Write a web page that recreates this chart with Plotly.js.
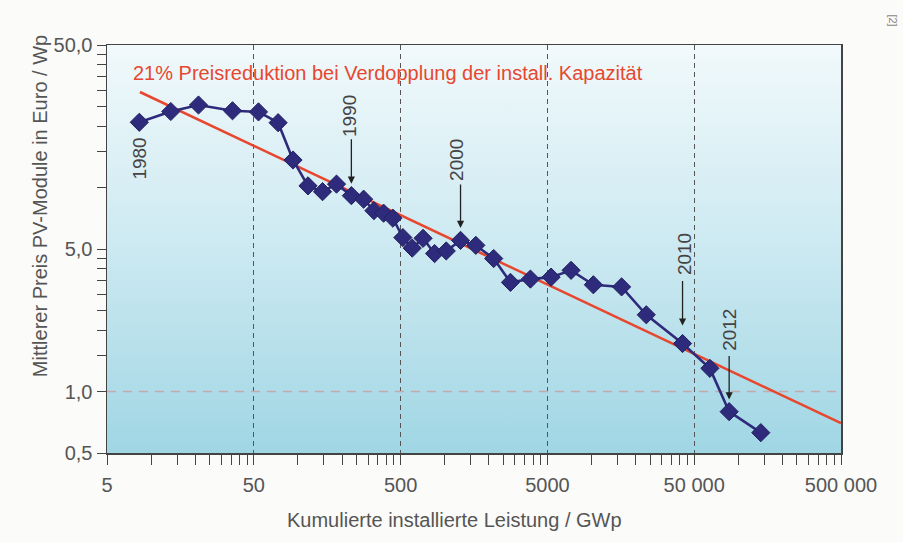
<!DOCTYPE html>
<html>
<head>
<meta charset="utf-8">
<script src="https://cdn.plot.ly/plotly-3.0.1.min.js"></script>
<style>html,body{margin:0;padding:0;background:#fbfbf9;}#chart{width:903px;height:542px;}</style>
</head>
<body>
<div id="chart"></div>
<script>
// ---- data ----
const years = [1980,1981,1982,1983,1984,1985,1986,1987,1988,1989,
               1990,1991,1992,1993,1994,1995,1996,1997,1998,1999,
               2000,2001,2002,2003,2004,2005,2006,2007,2008,2009,
               2010,2011,2012,2013];
const capacity = [8.3,13.6,21.0,35.8,53.8,73.2,92.5,117,147,183,
                  231,280,329,383,443,518,600,711,852,1023,
                  1280,1627,2153,2801,3831,5299,7248,10280,16010,23580,
                  41640,63940,86500,142100];
const price = [20.9,23.6,25.4,23.8,23.5,20.8,13.65,10.2,9.55,10.4,
               9.13,8.77,7.71,7.49,7.08,5.69,5.05,5.64,4.75,4.89,
               5.51,5.21,4.49,3.43,3.56,3.64,3.93,3.34,3.26,2.38,
               1.72,1.30,0.797,0.629];
const trendX = [8.38, 500000];
const trendY = [29.4, 0.70];
const refX = [5, 500000];
const refY = [1, 1];
const xTickVals = [5,50,500,5000,50000,500000];
const xTickText = ['5','50','500','5000','50 000','500 000'];
const yTickVals = [0.5,1,5,50];
const yTickText = ['0,5','1,0','5,0','50,0'];
const labelYears = [1980,1990,2000,2010,2012];
const trendLabel = '21% Preisreduktion bei Verdopplung der install. Kapazität';
const xTitle = 'Kumulierte installierte Leistung / GWp';
const yTitle = 'Mittlerer Preis PV-Module in Euro / Wp';

// minor ticks at multiples of 5·10^k
const xMinor = [];
for (let k = 0; k < 5; k++) for (let n = 2; n <= 9; n++) xMinor.push(n * 5 * Math.pow(10, k));
const yMinor = [];
for (let k = -1; k < 1; k++) for (let n = 3; n <= 9; n++) yMinor.push(n * 5 * Math.pow(10, k));
yMinor.push(10);

const FONT = 'Liberation Sans, Arial, sans-serif';
const GREY = '#555555';

const traces = [
  {x: refX, y: refY, mode: 'lines', line: {color: '#c7a9aa', width: 1.5, dash: '9px,7px'}, hoverinfo: 'skip'},
  {x: trendX, y: trendY, mode: 'lines', line: {color: '#e8472f', width: 2.6}, hoverinfo: 'skip'},
  {x: capacity, y: price, mode: 'lines+markers', text: years,
   line: {color: '#2e2b7c', width: 2.6},
   marker: {symbol: 'diamond', size: 14, color: '#2e2b7c', line: {color: '#24215f', width: 1}}}
];

// label offsets (px) relative to the data point
const labelShift = {1980: [0, -36], 1990: [-2, 80], 2000: [-4, 80], 2010: [2, 89], 2012: [1, 82]};
const arrowSpec = {1990: [12, -58], 2000: [12.5, -57.5], 2010: [18, -64], 2012: [12.3, -57.3]};

const annotations = [];
labelYears.forEach(yr => {
  const i = years.indexOf(yr);
  const lx = Math.log10(capacity[i]), ly = Math.log10(price[i]);
  const s = labelShift[yr];
  annotations.push({x: lx, y: ly, xref: 'x', yref: 'y', text: String(yr), showarrow: false,
    textangle: -90, xanchor: 'center', yanchor: 'middle', xshift: s[0], yshift: s[1],
    font: {family: FONT, size: 19, color: '#444'}});
  if (arrowSpec[yr]) {
    const a = arrowSpec[yr];
    annotations.push({x: lx, y: ly, xref: 'x', yref: 'y', text: '', showarrow: true,
      ax: 0, ay: a[1], axref: 'pixel', ayref: 'pixel', standoff: a[0],
      arrowhead: 2, arrowsize: 1.1, arrowwidth: 1.3, arrowcolor: '#222'});
  }
});
annotations.push({xref: 'paper', yref: 'paper', x: 0.0327, y: 0.931, xanchor: 'left', yanchor: 'middle',
  text: trendLabel, showarrow: false, font: {family: FONT, size: 20, color: '#e8472f'}});
annotations.push({xref: 'paper', yref: 'paper', x: 0.474, y: -0.164, xanchor: 'center', yanchor: 'middle',
  text: xTitle, showarrow: false, font: {family: FONT, size: 20, color: GREY}});
annotations.push({xref: 'paper', yref: 'paper', x: -0.0913, y: 0.605, xanchor: 'center', yanchor: 'middle',
  text: yTitle, showarrow: false, textangle: -90, font: {family: FONT, size: 20, color: GREY}});
annotations.push({xref: 'paper', yref: 'paper', x: 1.071, y: 1.06, xanchor: 'center', yanchor: 'middle',
  text: '[2]', showarrow: false, textangle: 90, font: {family: FONT, size: 11, color: '#888'}});

const svg = "<svg xmlns='http://www.w3.org/2000/svg' width='100' height='100' preserveAspectRatio='none'>" +
  "<defs><linearGradient id='g' x1='0' y1='0' x2='0' y2='1'>" +
  "<stop offset='0' stop-color='#f1f9fb'/><stop offset='0.5' stop-color='#cce9f1'/>" +
  "<stop offset='1' stop-color='#a0d6e4'/></linearGradient></defs>" +
  "<rect width='100' height='100' fill='url(#g)'/></svg>";

const layout = {
  width: 903, height: 542,
  margin: {l: 107, r: 62, t: 45, b: 89},
  paper_bgcolor: '#fbfbf9',
  plot_bgcolor: 'rgba(0,0,0,0)',
  showlegend: false,
  font: {family: FONT, color: GREY},
  images: [{source: 'data:image/svg+xml;charset=utf-8,' + encodeURIComponent(svg),
    xref: 'paper', yref: 'paper', x: 0, y: 1, sizex: 1, sizey: 1,
    xanchor: 'left', yanchor: 'top', sizing: 'stretch', layer: 'below'}],
  xaxis: {
    type: 'log', range: [Math.log10(5), Math.log10(500000)],
    tickmode: 'array', tickvals: xTickVals, ticktext: xTickText,
    ticks: 'outside', ticklen: 10, tickwidth: 1, tickcolor: '#444',
    minor: {tickvals: xMinor, ticks: 'outside', ticklen: 10, tickwidth: 1, tickcolor: '#444', showgrid: false},
    showgrid: true, gridcolor: '#555', griddash: '5px,4px', gridwidth: 1,
    showline: true, mirror: true, linecolor: '#444', linewidth: 1.5,
    zeroline: false, tickfont: {family: FONT, size: 20, color: GREY},
    ticklabelstandoff: 3
  },
  yaxis: {
    type: 'log', range: [Math.log10(0.5), Math.log10(50)],
    tickmode: 'array', tickvals: yTickVals, ticktext: yTickText,
    ticks: 'outside', ticklen: 9, tickwidth: 1, tickcolor: '#444',
    minor: {tickvals: yMinor, ticks: 'outside', ticklen: 9, tickwidth: 1, tickcolor: '#444', showgrid: false},
    showgrid: false,
    showline: true, mirror: true, linecolor: '#444', linewidth: 1.5,
    zeroline: false, tickfont: {family: FONT, size: 20, color: GREY}
  },
  annotations: annotations
};

Plotly.newPlot('chart', traces, layout, {staticPlot: true, displayModeBar: false});
</script>
</body>
</html>
